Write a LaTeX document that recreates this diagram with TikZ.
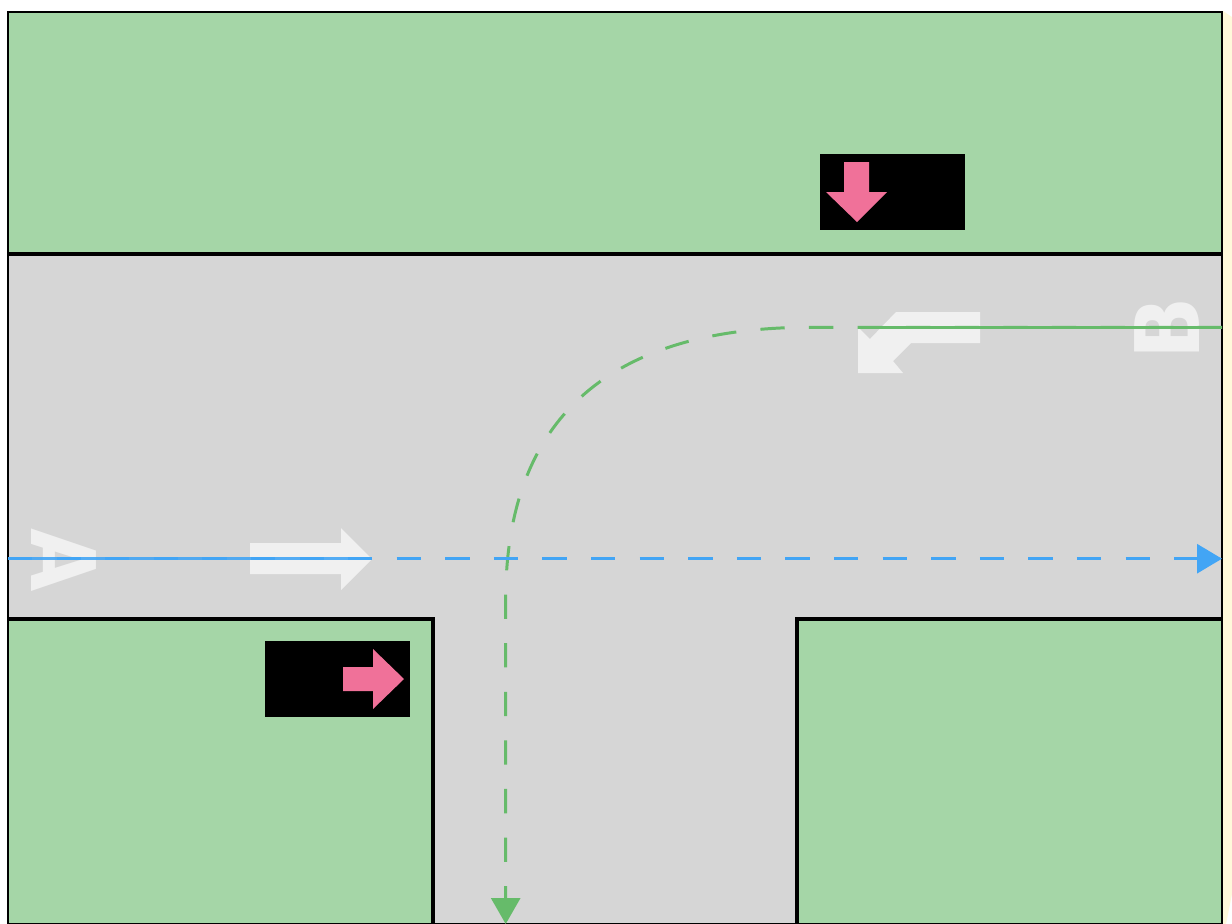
\documentclass[tikz,border=0pt]{standalone}
\usepackage{fontspec}
\setmainfont{DejaVu Sans}
\usetikzlibrary{arrows.meta}
\definecolor{grass}{HTML}{A5D6A7}
\definecolor{road}{HTML}{D6D6D6}
\definecolor{paint}{HTML}{F0F0F0}
\definecolor{bluepath}{HTML}{42A5F5}
\definecolor{greenpath}{HTML}{66BB6A}
\definecolor{signal}{HTML}{F07199}
\definecolor{cream}{HTML}{FFF9DB}
\tikzset{
    kerb/.style={draw=black,line width=1.9pt},
    lettermark/.style={text=paint,font=\bfseries\fontsize{50.7}{50.7}\selectfont,inner sep=0pt},
    solidpath/.style={line width=1.7pt},
    dashedpath/.style={line width=1.7pt,dash pattern=on 0.486cm off 0.486cm},
}
\begin{document}
\begin{tikzpicture}[x=0.02cm,y=-0.02cm]
    \useasboundingbox (0,0) rectangle (1232,924);
    \fill[white] (0,0) rectangle (1232,924);
    \fill[cream] (1223,11) -- (1232,17) -- (1232,894) -- (1226,924) -- (1223,924) -- cycle;
    % ground
    \fill[road] (8,12) rectangle (1222,924);
    \fill[grass] (8,12) rectangle (1222,254);
    \fill[grass] (8,619) rectangle (433,924);
    \fill[grass] (797,619) rectangle (1222,924);
    \draw[kerb] (8,254) -- (1222,254);
    \draw[kerb] (8,619) -- (433,619) -- (433,924);
    \draw[kerb] (1222,619) -- (797,619) -- (797,924);
    \draw[line width=1.4pt] (8,12) rectangle (1222,924);
    % road markings
    \fill[paint] (250,543) -- (341,543) -- (341,528) -- (372,559) -- (341,590) -- (341,574) -- (250,574) -- cycle;
    \fill[paint] (980,312) -- (896,312) -- (870,339) -- (858,327) -- (858,373) -- (903,373) -- (893,361) -- (911,343) -- (980,343) -- cycle;
    \node[lettermark,rotate=-90] (letterA) at (63.5,560) {\scalebox{0.92}[1]{A}};
    \node[lettermark,rotate=90] (letterB) at (1167,328.3) {\scalebox{0.92}[1]{B}};
    % signals
    \fill[black] (265,641) rectangle (410,717);
    \fill[signal] (343,667) -- (373,667) -- (373,649) -- (404,679) -- (373,709) -- (373,691) -- (343,691) -- cycle;
    \fill[black] (820,154) rectangle (965,230);
    \fill[signal] (844,162) -- (869,162) -- (869,192) -- (887,192) -- (857,222) -- (826,192) -- (844,192) -- cycle;
    % paths
    \coordinate (startB) at (1222,327.3);
    \coordinate (solidB) at (858,327.3);
    \coordinate (bendB) at (810,327.3);
    \coordinate (bendS) at (505.7,600);
    \coordinate (endS) at (505.7,924);
    \coordinate (startA) at (8,558.7);
    \coordinate (solidA) at (372,558.7);
    \coordinate (endA) at (1222,558.7);
    \draw[greenpath,solidpath] (startB) -- (solidB);
    \draw[greenpath,dashedpath,-{Triangle[length=26*0.02cm,width=29*0.02cm]}] (startB) -- (bendB) .. controls (625,327.3) and (505.7,405) .. (bendS) -- (endS);
    \draw[bluepath,solidpath,opacity=0.9] (startA) -- (solidA);
    \draw[bluepath,dashedpath,-{Triangle[length=25*0.02cm,width=29*0.02cm]}] (startA) -- (endA);
\end{tikzpicture}
\end{document}
